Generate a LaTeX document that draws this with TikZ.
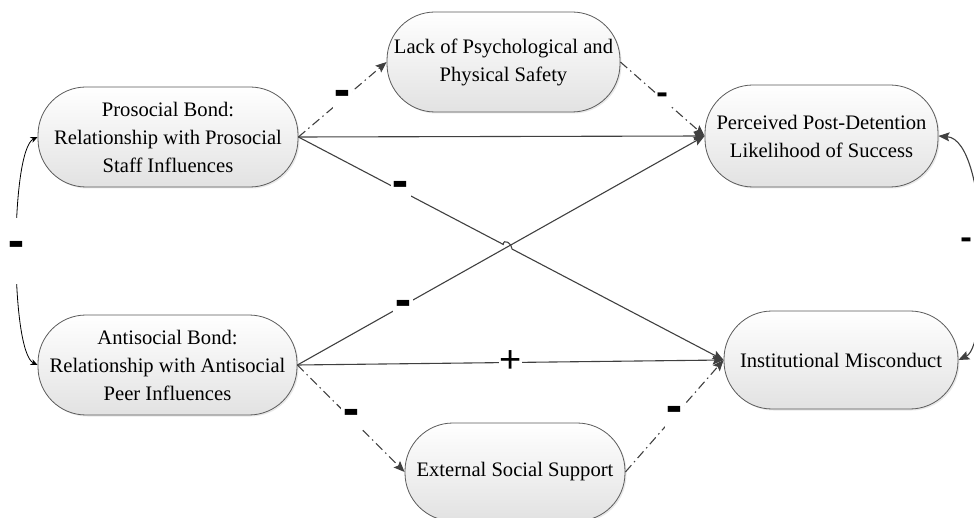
\documentclass[tikz,border=0pt]{standalone}
\usepackage{fontspec}
\setmainfont{Liberation Serif}
\newfontfamily\markfont{Liberation Sans}
\usepackage{graphicx}
\usetikzlibrary{arrows.meta,calc,shadows}

\definecolor{edgegray}{HTML}{404040}
\definecolor{boxline}{HTML}{5A5A5A}
\definecolor{boxbottom}{HTML}{E2E2E2}

% sign labels on the paths
\newcommand{\bigminus}{\scalebox{1}[2.4]{\markfont\bfseries\fontsize{25}{25}\selectfont –}}
\newcommand{\smallminus}{\scalebox{1}[2.2]{\markfont\bfseries\fontsize{18}{18}\selectfont –}}
\newcommand{\plusmark}{{\markfont\fontsize{38}{38}\selectfont +}}

\tikzset{
  box/.style={draw=boxline, line width=0.8pt, rounded corners=48pt,
    top color=white, bottom color=boxbottom,
    drop shadow={shadow xshift=1.5pt, shadow yshift=-1.5pt, opacity=0.18},
    align=center, text=black, inner sep=0pt,
    font=\fontsize{20.6}{28}\selectfont},
  solidarrow/.style={draw=edgegray, line width=1.1pt,
    -{Stealth[length=11pt,width=9pt,inset=2pt]}},
  dasharrow/.style={solidarrow, dash pattern=on 9pt off 4pt on 1.5pt off 4pt},
  corrarrow/.style={draw=black, line width=0.8pt,
    {Stealth[length=7pt,width=6pt]}-{Stealth[length=7pt,width=6pt]}},
  corrarrowgray/.style={draw=edgegray, line width=1.1pt,
    {Stealth[length=11pt,width=9pt,inset=2pt]}-{Stealth[length=11pt,width=9pt,inset=2pt]}},
  lab/.style={fill=white, inner xsep=3pt, inner ysep=2pt, text=black},
}

\begin{document}
\begin{tikzpicture}[x=1pt, y=-1pt]
\useasboundingbox (0,0) rectangle (974,518);

% constructs
\node[box, minimum width=260pt, minimum height=100pt] (pro) at (168,137)
  {Prosocial Bond:\\Relationship with Prosocial\\Staff Influences};
\node[box, minimum width=259pt, minimum height=100pt] (anti) at (167.5,365)
  {Antisocial Bond:\\Relationship with Antisocial\\Peer Influences};
\node[box, minimum width=233pt, minimum height=100pt] (lack) at (503.5,62)
  {Lack of Psychological and\\Physical Safety};
\node[box, minimum width=233pt, minimum height=102pt] (perc) at (821.5,136)
  {Perceived Post-Detention\\Likelihood of Success};
\node[box, minimum width=234pt, minimum height=98pt] (inst) at (841,360)
  {Institutional Misconduct};
\node[box, minimum width=220pt, minimum height=98pt] (ext) at (515,472)
  {External Social Support};

% crossing point of the two diagonal paths, with a hop on the descending one
\coordinate (X) at (intersection of pro.east--inst.west and anti.east--perc.west);
\coordinate (Xa) at ($(X)!5pt!(pro.east)$);
\coordinate (Xb) at ($(X)!5pt!(inst.west)$);

% mediated paths
\draw[dasharrow] (pro.east) -- node[lab] {\bigminus} (lack.west);
\draw[dasharrow] (lack.east) -- node[lab, inner xsep=2pt] {\smallminus} (perc.west);
\draw[dasharrow] (anti.east) -- node[lab] {\bigminus} (ext.west);
\draw[dasharrow] (ext.east) -- node[lab] {\bigminus} (inst.west);

% direct paths
\draw[solidarrow] (pro.east) -- (perc.west);
\draw[solidarrow] (anti.east) -- node[lab, pos=0.26, yshift=-5pt] {\bigminus} (perc.west);
\draw[solidarrow] (pro.east) -- node[lab, pos=0.5] {\bigminus} (Xa)
  .. controls ($(Xa)+(0,-6)$) and ($(Xb)+(0,-6)$) .. (Xb) -- (inst.west);
\draw[solidarrow] (anti.east) -- node[lab, pos=0.5, inner sep=0pt, yshift=1pt] {\plusmark} (inst.west);

% correlations
\draw[corrarrow] (pro.west) .. controls (10,150) and (10,352) ..
  node[lab, pos=0.5, minimum height=66pt] {\bigminus} (anti.west);
\draw[corrarrowgray] (perc.east) .. controls (990,140) and (990,345) ..
  node[pos=0.5, anchor=east, inner sep=0pt, xshift=-8pt, text=black] {\smallminus} (inst.east);
\end{tikzpicture}
\end{document}
